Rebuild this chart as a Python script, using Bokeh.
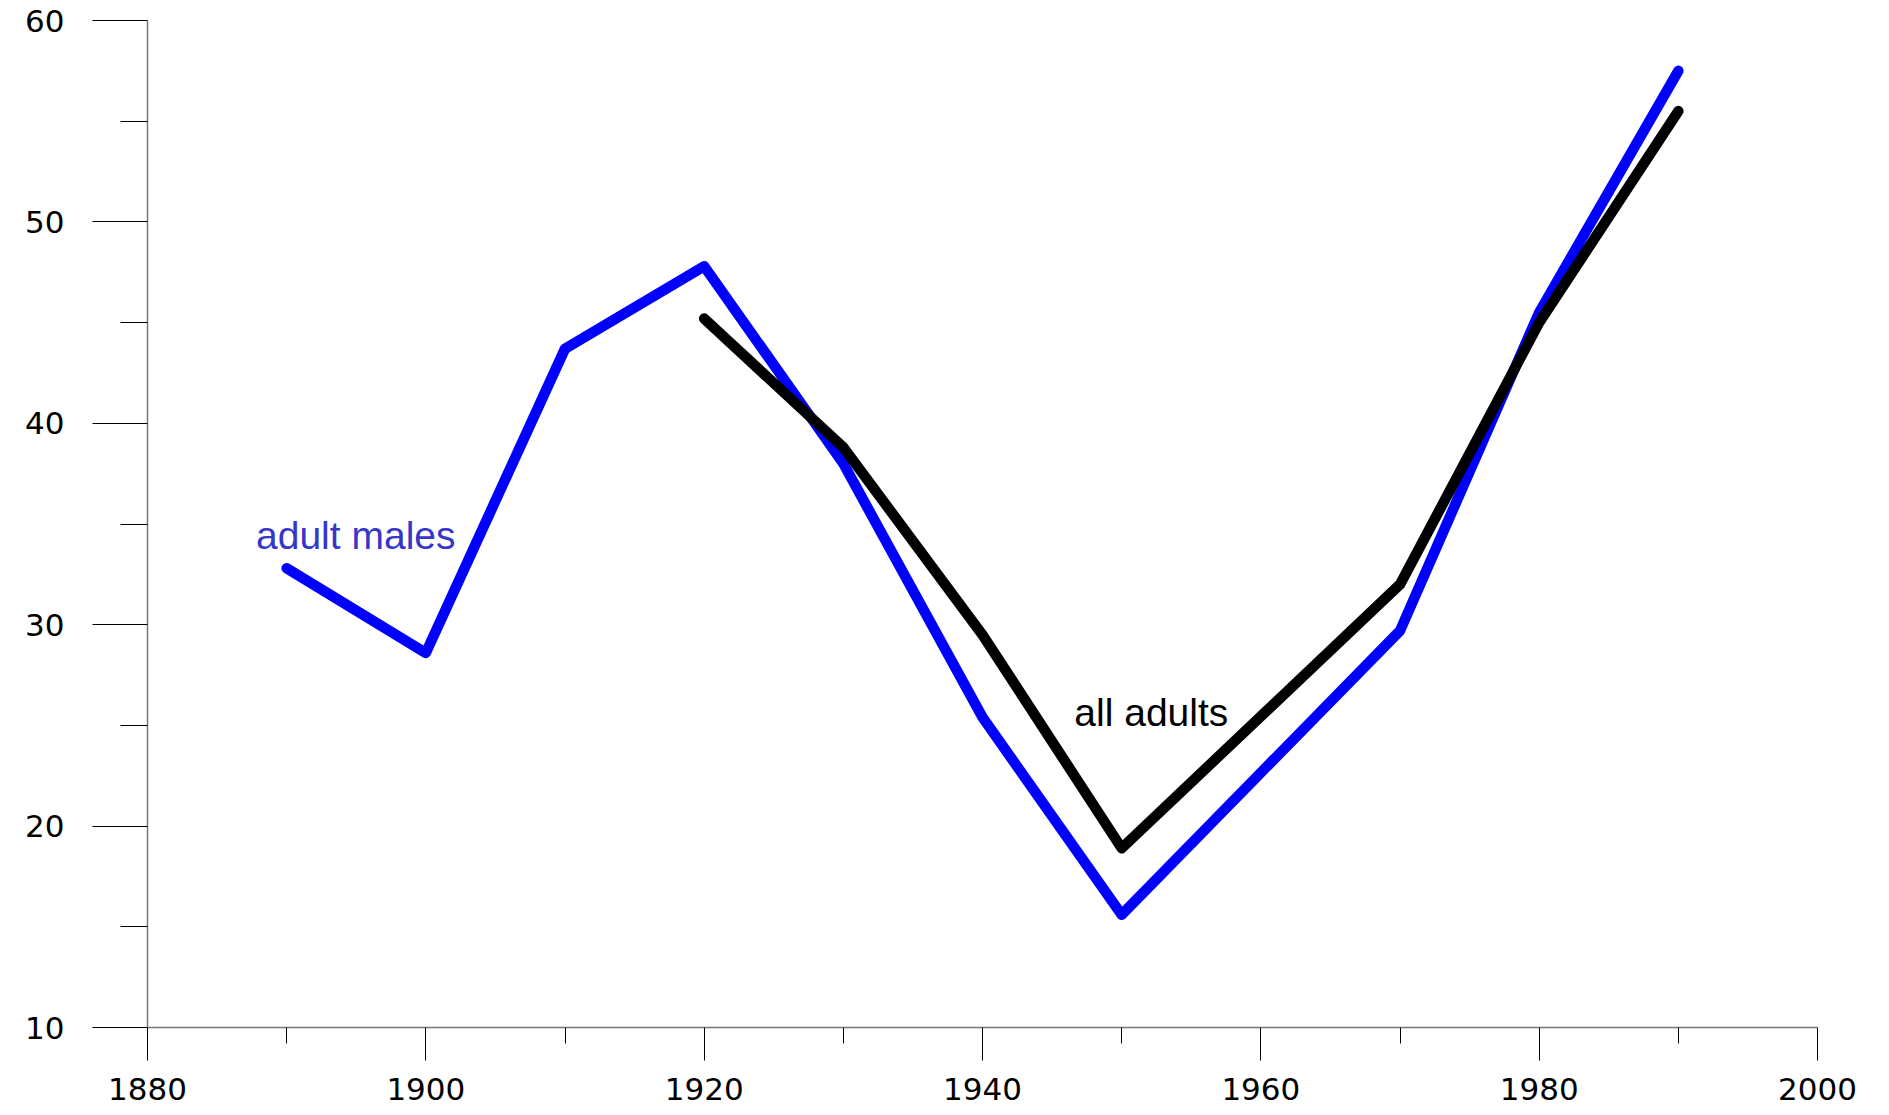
from bokeh.plotting import figure
from bokeh.models import Range1d, FixedTicker, Label
from bokeh.embed import file_html
from bokeh.resources import INLINE

# Data
males_years = [1890, 1900, 1910, 1920, 1930, 1940, 1950, 1970, 1980, 1990]
males_values = [32.8, 28.6, 43.7, 47.8, 38.0, 25.4, 15.6, 29.7, 45.5, 57.5]

adults_years = [1920, 1930, 1940, 1950, 1970, 1980, 1990]
adults_values = [45.2, 38.8, 29.5, 18.9, 32.0, 45.0, 55.5]

x_major = [1880, 1900, 1920, 1940, 1960, 1980, 2000]
x_minor = [1890, 1910, 1930, 1950, 1970, 1990]
y_major = [10, 20, 30, 40, 50, 60]
y_minor = [15, 25, 35, 45, 55]

p = figure(width=1873, height=1114, output_backend="svg", toolbar_location=None,
           x_range=Range1d(1880, 2000), y_range=Range1d(10, 60),
           min_border_left=147, min_border_right=56, min_border_top=20, min_border_bottom=87)
p.outline_line_color = None
p.xgrid.visible = False
p.ygrid.visible = False
p.background_fill_color = "white"
p.border_fill_color = "white"

tick_font = "DejaVu Sans"
for ax in (p.xaxis[0], p.yaxis[0]):
    ax.axis_line_color = "#777777"
    ax.axis_line_width = 1.5
    ax.major_tick_line_color = "black"
    ax.minor_tick_line_color = "black"
    ax.major_tick_in = 0
    ax.minor_tick_in = 0
    ax.major_label_text_font = tick_font
    ax.major_label_text_font_size = "31px"
    ax.major_label_text_color = "black"

p.xaxis[0].ticker = FixedTicker(ticks=x_major, minor_ticks=x_minor)
p.yaxis[0].ticker = FixedTicker(ticks=y_major, minor_ticks=y_minor)
p.xaxis[0].major_tick_out = 33
p.xaxis[0].minor_tick_out = 16
p.xaxis[0].major_label_standoff = 17
p.yaxis[0].major_tick_out = 55
p.yaxis[0].minor_tick_out = 27
p.yaxis[0].major_label_standoff = 28

p.line(males_years, males_values, line_color="#0000FF", line_width=10.5,
       line_cap="round", line_join="round")
p.line(adults_years, adults_values, line_color="black", line_width=10.5,
       line_cap="round", line_join="round")

p.add_layout(Label(x=1887.8, y=34.45, text="adult males", text_color="#3636C8",
                   text_font="Liberation Sans", text_font_size="39px",
                   text_baseline="alphabetic"))
p.add_layout(Label(x=1946.6, y=25.65, text="all adults", text_color="black",
                   text_font="Liberation Sans", text_font_size="39px",
                   text_baseline="alphabetic"))

open("out.html", "w").write(file_html(p, INLINE))
